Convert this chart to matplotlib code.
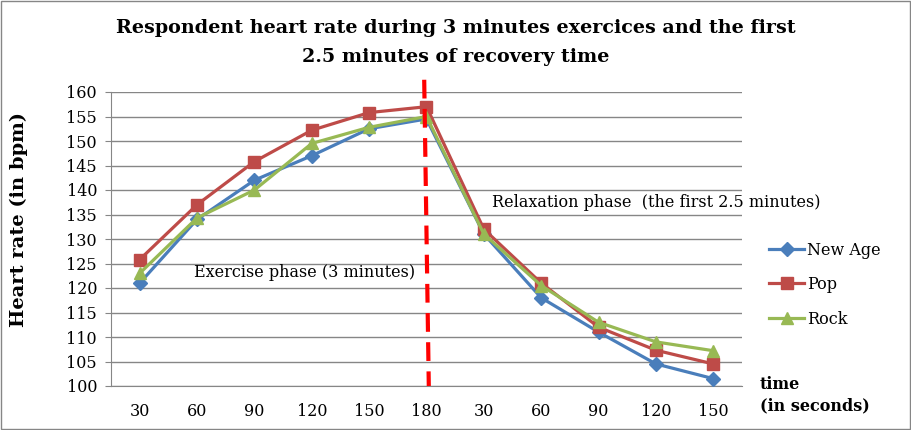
import matplotlib.pyplot as plt

plt.rcParams['font.family'] = ['DejaVu Serif']

# Dữ liệu
time_labels = ["30", "60", "90", "120", "150", "180", "30", "60", "90", "120", "150"]
new_age = [121, 134, 142, 147, 152.5, 154.5, 131, 118, 111, 104.5, 101.5]
pop = [125.8, 137, 145.8, 152.2, 155.8, 157, 132, 121, 112, 107.3, 104.5]
rock = [123, 134.3, 140, 149.5, 152.8, 155, 131, 120.5, 113, 109, 107.2]
split_index = 5

fig = plt.figure(figsize=(9.12, 4.3), dpi=100)
ax = fig.add_axes([111 / 912, 1 - 386 / 430, 631 / 912, 294 / 430])

x = [i + 0.5 for i in range(len(time_labels))]
ax.plot(x, new_age, color='#4A7EBB', marker='D', markersize=7, linewidth=2.3, label='New Age', zorder=3)
ax.plot(x, pop, color='#BE4B48', marker='s', markersize=8.5, linewidth=2.3, label='Pop', zorder=3)
ax.plot(x, rock, color='#98B954', marker='^', markersize=9, linewidth=2.3, label='Rock', zorder=4)

ax.set_xlim(0, len(time_labels))
ax.set_ylim(100, 160)
ax.set_yticks(range(100, 161, 5))
ax.set_xticks(x)
ax.set_xticklabels(time_labels)
ax.tick_params(axis='x', length=0, pad=12, labelsize=11.5)
ax.tick_params(axis='y', length=4, color='#868686', labelsize=11.5, pad=6)
ax.grid(axis='y', color='#868686', linewidth=1)
ax.set_axisbelow(True)
for s in ['top', 'right']:
    ax.spines[s].set_visible(False)
for s in ['left', 'bottom']:
    ax.spines[s].set_color('#868686')

# Đường phân chia
ax.plot([x[split_index] - 0.04, x[split_index] + 0.04], [162.5, 100], color='red',
        linestyle=(0, (4.5, 2.5)), linewidth=3, clip_on=False, zorder=5)

ax.text(1.45, 122.3, "Exercise phase (3 minutes)", fontsize=11.5)
ax.text(6.65, 136.6, "Relaxation phase  (the first 2.5 minutes)", fontsize=11.5)

ax.set_ylabel("Heart rate (in bpm)", fontsize=14, fontweight='bold')
ax.yaxis.set_label_coords(-0.131, 0.568)
fig.text(760 / 912, 1 - 410 / 430, "time\n(in seconds)", fontsize=11.5, fontweight='bold',
         linespacing=1.3)

fig.suptitle("Respondent heart rate during 3 minutes exercices and the first\n2.5 minutes of recovery time",
             fontsize=13.8, fontweight='bold', y=0.955, linespacing=1.75)

ax.legend(loc='center left', bbox_to_anchor=(1.02, 0.345), frameon=False, fontsize=11.5,
          handlelength=2.2, labelspacing=1.1, handletextpad=0.2)

fig.patches.append(plt.Rectangle((0.001, 0.002), 0.997, 0.996, transform=fig.transFigure,
                                 fill=False, edgecolor='#868686', linewidth=1))

plt.savefig("out.png", dpi=100)
